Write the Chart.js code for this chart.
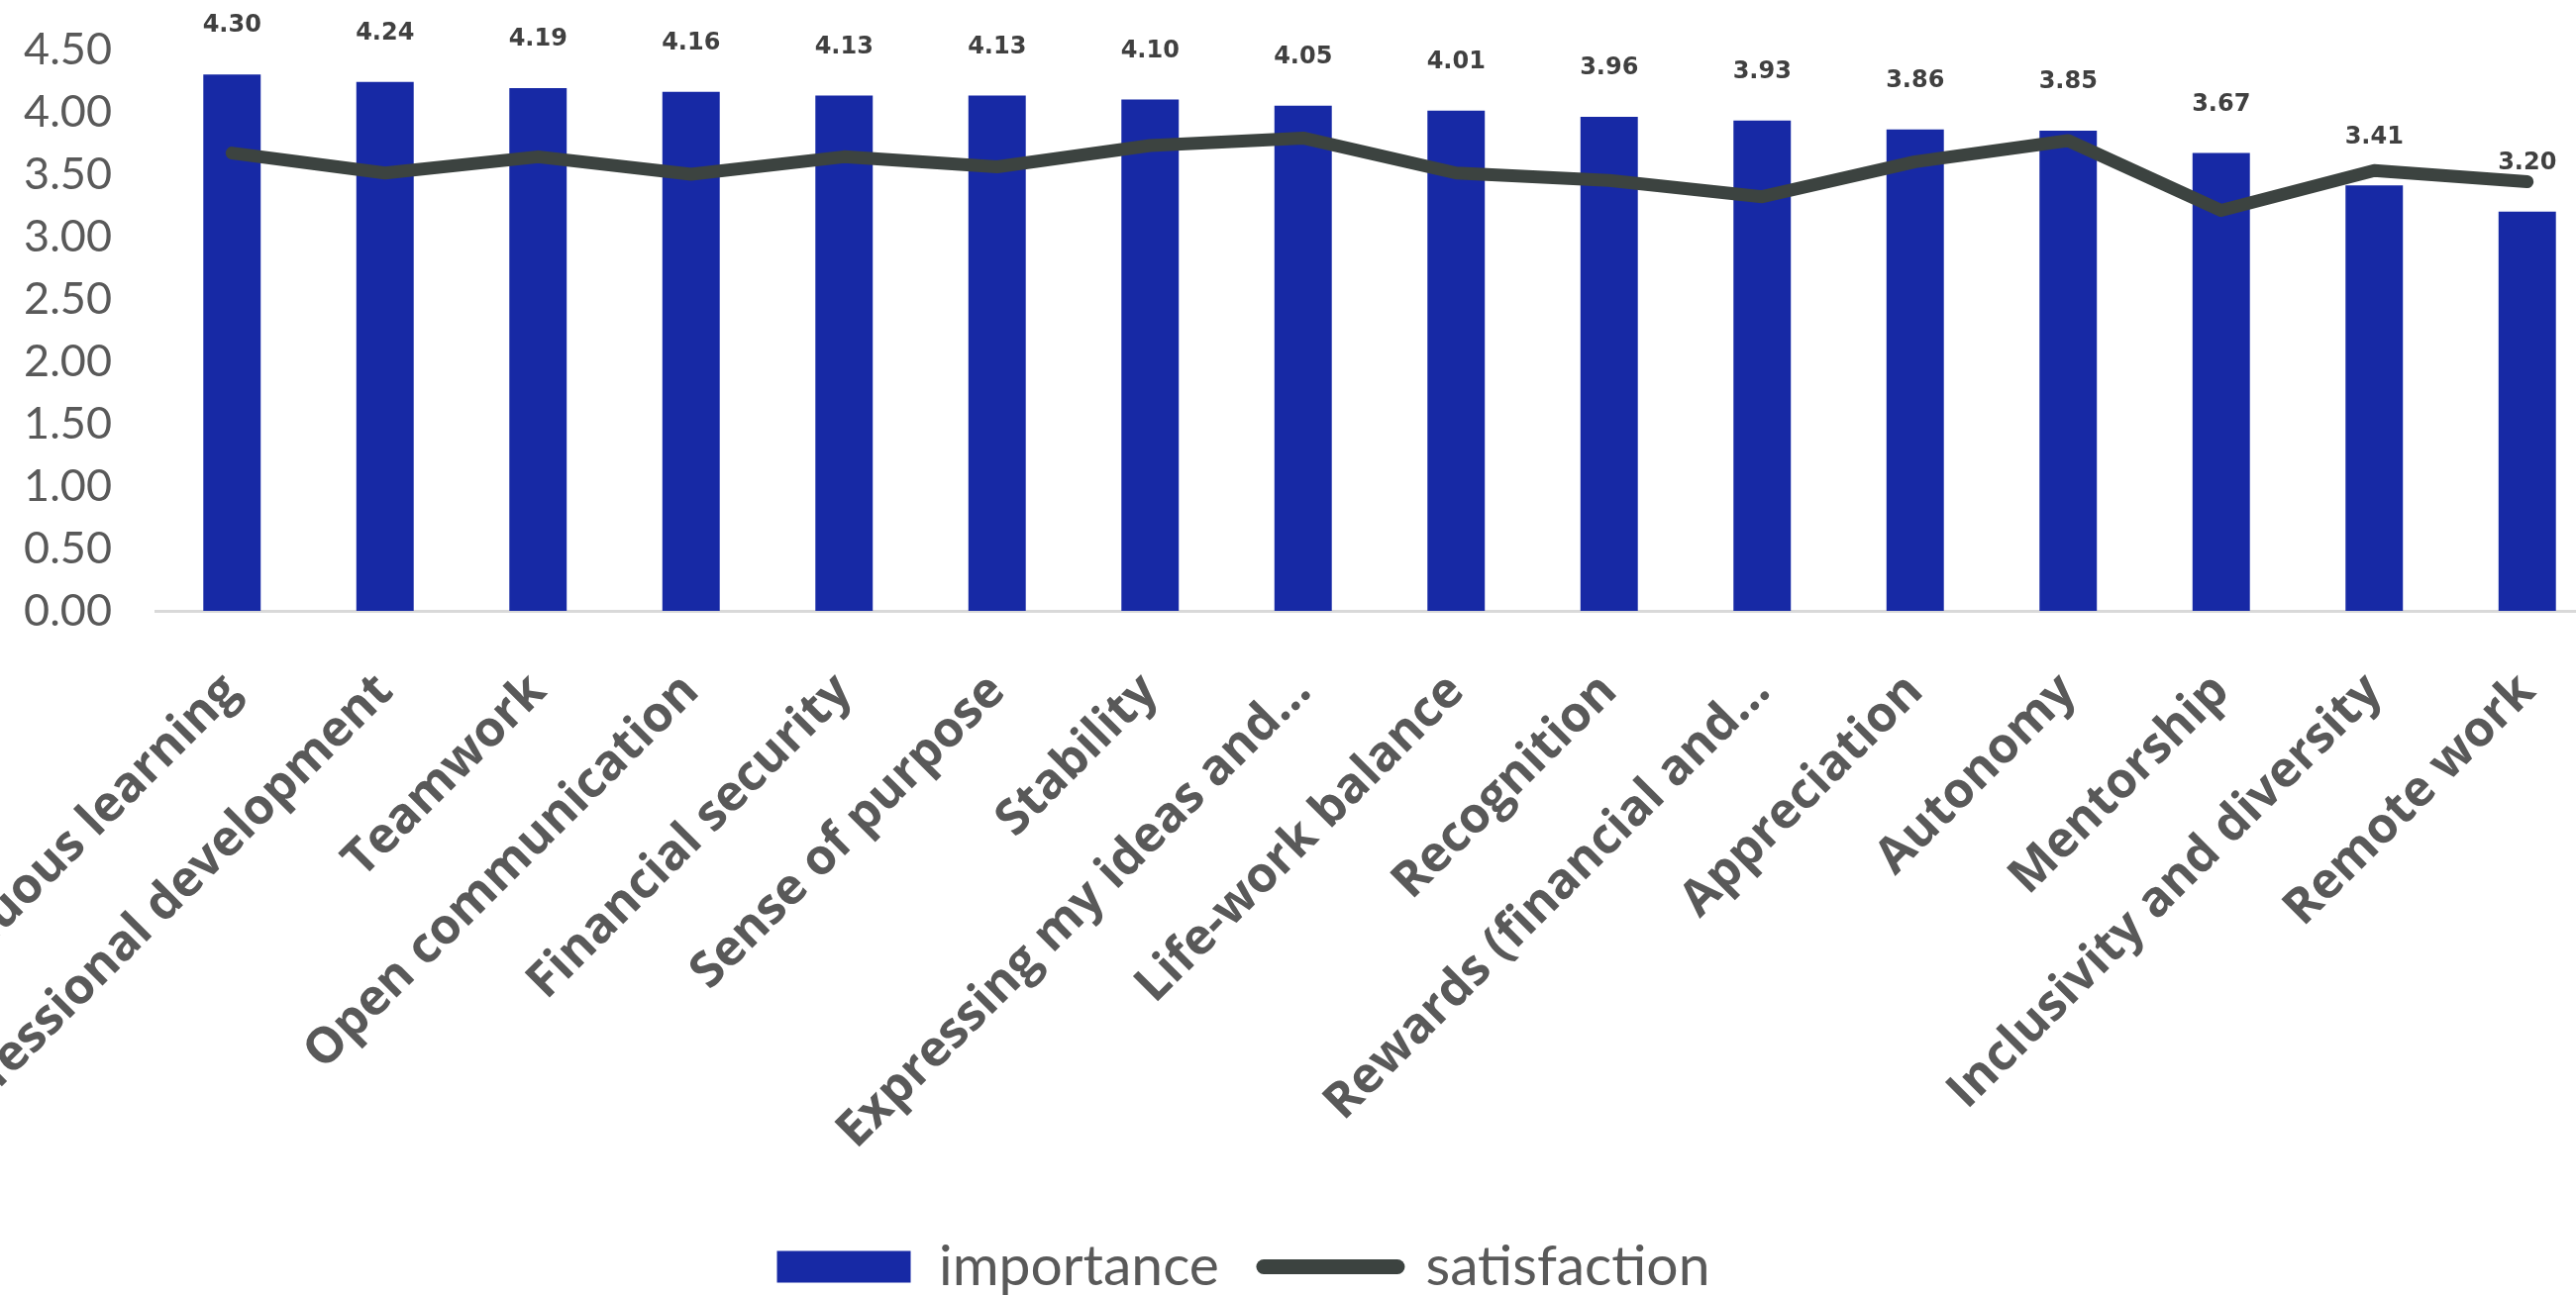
<!DOCTYPE html>
<html>
<head>
<meta charset="utf-8">
<script src="https://cdn.jsdelivr.net/npm/chart.js@4.4.1/dist/chart.umd.min.js"></script>
<style>
  html, body { margin: 0; padding: 0; background: #ffffff; overflow: hidden; width: 2601px; height: 1308px; }
  #wrap { position: absolute; left: -118px; top: 0; width: 2747px; height: 1308px; }
  canvas { display: block; }
</style>
</head>
<body>
<div id="wrap"><canvas id="chart" width="2747" height="1308"></canvas></div>
<script>
// Work values survey: how important each factor is vs. how satisfied people are with it
const categories = [
  'Continuous learning',
  'Professional development',
  'Teamwork',
  'Open communication',
  'Financial security',
  'Sense of purpose',
  'Stability',
  'Expressing my ideas and...',
  'Life-work balance',
  'Recognition',
  'Rewards (financial and...',
  'Appreciation',
  'Autonomy',
  'Mentorship',
  'Inclusivity and diversity',
  'Remote work'
];
const importance   = [4.30, 4.24, 4.19, 4.16, 4.13, 4.13, 4.10, 4.05, 4.01, 3.96, 3.93, 3.86, 3.85, 3.67, 3.41, 3.20];
const satisfaction = [3.67, 3.51, 3.64, 3.50, 3.64, 3.56, 3.73, 3.79, 3.51, 3.45, 3.32, 3.60, 3.77, 3.21, 3.53, 3.44];
const yTicks = [0, 0.5, 1, 1.5, 2, 2.5, 3, 3.5, 4, 4.5];

const BAR_COLOR = '#1729a5';
const LINE_COLOR = '#3c4340';
const TEXT_GREY = '#595959';

// Value labels above the bars (drawn before the line so the line passes over them)
const valueLabels = {
  id: 'valueLabels',
  afterDatasetDraw(chart, args) {
    if (args.index !== 0) return;
    const ctx = chart.ctx;
    ctx.save();
    ctx.font = 'bold 24px "DejaVu Sans"';
    ctx.fillStyle = '#404040';
    ctx.textAlign = 'center';
    ctx.textBaseline = 'middle';
    args.meta.data.forEach((bar, i) => {
      ctx.fillText(importance[i].toFixed(2), bar.x, bar.y - 49);
    });
    ctx.restore();
  }
};

new Chart(document.getElementById('chart'), {
  data: {
    labels: categories,
    datasets: [
      {
        type: 'bar',
        label: 'importance',
        data: importance,
        backgroundColor: BAR_COLOR,
        borderWidth: 0,
        categoryPercentage: 1.0,
        barPercentage: 0.375,
        pointStyle: 'rect',
        order: 1
      },
      {
        type: 'line',
        label: 'satisfaction',
        data: satisfaction,
        borderColor: LINE_COLOR,
        backgroundColor: LINE_COLOR,
        borderWidth: 13,
        borderJoinStyle: 'round',
        borderCapStyle: 'round',
        tension: 0,
        pointRadius: 0,
        pointHoverRadius: 0,
        pointStyle: 'line',
        fill: false,
        order: 0
      }
    ]
  },
  options: {
    responsive: false,
    animation: false,
    devicePixelRatio: 1,
    layout: { padding: { top: 50, bottom: -10, left: 0, right: 0 } },
    scales: {
      x: {
        offset: true,
        grid: { display: false, drawTicks: false },
        border: { display: true, color: '#d9d9d9', width: 3 },
        ticks: {
          autoSkip: false,
          minRotation: 45,
          maxRotation: 45,
          padding: 52,
          color: TEXT_GREY,
          font: { family: '"Open Sans"', size: 50, weight: 'bold' }
        },
        afterFit(scale) {
          scale.height = 589;
          scale.paddingLeft = 0;
          scale.paddingRight = 0;
        }
      },
      y: {
        min: yTicks[0],
        max: yTicks[yTicks.length - 1],
        afterBuildTicks(scale) {
          scale.ticks = yTicks.map(v => ({ value: v }));
        },
        grid: { display: false, drawTicks: false },
        border: { display: false },
        ticks: {
          padding: 44,
          color: TEXT_GREY,
          font: { family: 'Lato', size: 45 },
          callback: v => Number(v).toFixed(2)
        },
        afterFit(scale) {
          scale.width = 275;
          scale.paddingTop = 0;
          scale.paddingBottom = 0;
        }
      }
    },
    plugins: {
      tooltip: { enabled: false },
      legend: {
        position: 'bottom',
        align: 'center',
        labels: {
          usePointStyle: true,
          pointStyleWidth: 135,
          boxHeight: 32,
          padding: 45,
          color: TEXT_GREY,
          font: { family: 'Lato', size: 57 },
          sort: (a, b) => a.datasetIndex - b.datasetIndex,
          generateLabels(chart) {
            const items = Chart.defaults.plugins.legend.labels.generateLabels(chart);
            items.forEach(it => {
              if (it.datasetIndex === 1) {
                it.lineWidth = 15;
                it.lineCap = 'round';
                it.strokeStyle = LINE_COLOR;
              } else {
                it.lineWidth = 0;
                it.fillStyle = BAR_COLOR;
              }
            });
            return items;
          }
        }
      }
    }
  },
  plugins: [valueLabels]
});
</script>
</body>
</html>
